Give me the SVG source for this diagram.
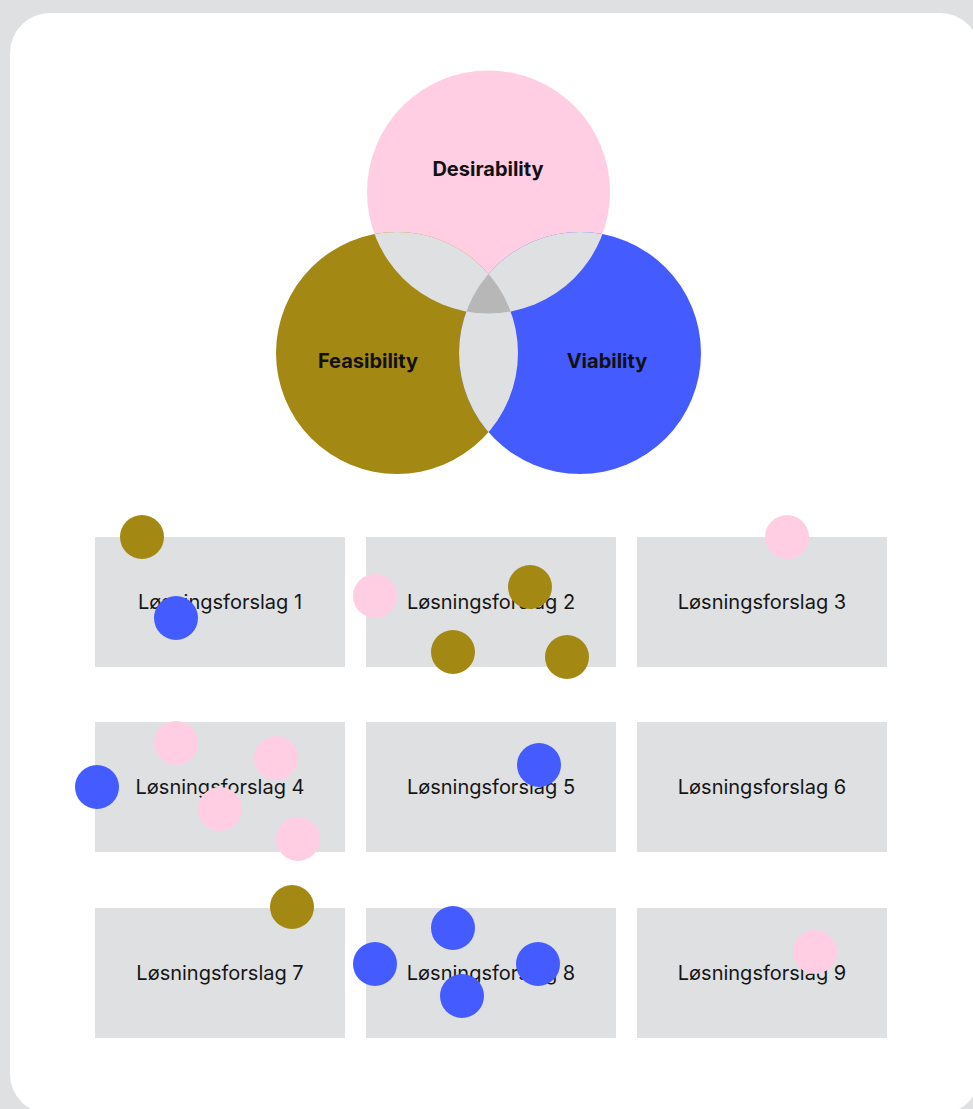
<svg xmlns="http://www.w3.org/2000/svg" width="973" height="1109" viewBox="0 0 973 1109">
  <style>
    .card { fill: #ffffff; }
    .box { fill: #dfe0e2; }
    .box-label { font-family: Inter, "Liberation Sans", sans-serif; font-size: 20px; fill: #161616; text-anchor: middle; dominant-baseline: central; }
    .venn-label { font-family: Inter, "Liberation Sans", sans-serif; font-size: 20px; font-weight: 700; fill: #111111; text-anchor: middle; dominant-baseline: central; }
    .pink { fill: #ffcee3; }
    .olive { fill: #a38814; }
    .blue { fill: #445bff; }
    .pair { fill: #dfe0e2; }
    .triple { fill: #b7b7b7; }
  </style>
  <defs>
    <clipPath id="clipD"><circle cx="488.5" cy="192" r="121.5"/></clipPath>
    <clipPath id="clipF"><circle cx="397" cy="353" r="121"/></clipPath>
    <clipPath id="clipV"><circle cx="580" cy="353" r="121"/></clipPath>
  </defs>

  <!-- page background and card -->
  <rect x="0" y="0" width="973" height="1109" fill="#dfe0e2"/>
  <rect class="card" x="10" y="13" width="970" height="1101" rx="40" ry="40"/>

  <!-- Venn diagram -->
  <g id="venn">
    <g id="desirability">
      <circle class="pink" cx="488.5" cy="192" r="121.5"/>
    </g>
    <g id="feasibility">
      <circle class="olive" cx="397" cy="353" r="121"/>
    </g>
    <g id="viability">
      <circle class="blue" cx="580" cy="353" r="121"/>
    </g>
    <g id="overlaps">
      <circle class="pair" cx="397" cy="353" r="121" clip-path="url(#clipD)"/>
      <circle class="pair" cx="580" cy="353" r="121" clip-path="url(#clipD)"/>
      <circle class="pair" cx="397" cy="353" r="121" clip-path="url(#clipV)"/>
      <g clip-path="url(#clipV)">
        <circle class="triple" cx="397" cy="353" r="121" clip-path="url(#clipD)"/>
      </g>
    </g>
    <text class="venn-label" x="488" y="169">Desirability</text>
    <text class="venn-label" x="368" y="361">Feasibility</text>
    <text class="venn-label" x="607" y="361">Viability</text>
  </g>

  <!-- solution boxes -->
  <g id="box1"><rect class="box" x="95" y="537" width="250" height="130"/><text class="box-label" x="220" y="602">Løsningsforslag 1</text></g>
  <g id="box2"><rect class="box" x="366" y="537" width="250" height="130"/><text class="box-label" x="491" y="602">Løsningsforslag 2</text></g>
  <g id="box3"><rect class="box" x="637" y="537" width="250" height="130"/><text class="box-label" x="762" y="602">Løsningsforslag 3</text></g>
  <g id="box4"><rect class="box" x="95" y="722" width="250" height="130"/><text class="box-label" x="220" y="787">Løsningsforslag 4</text></g>
  <g id="box5"><rect class="box" x="366" y="722" width="250" height="130"/><text class="box-label" x="491" y="787">Løsningsforslag 5</text></g>
  <g id="box6"><rect class="box" x="637" y="722" width="250" height="130"/><text class="box-label" x="762" y="787">Løsningsforslag 6</text></g>
  <g id="box7"><rect class="box" x="95" y="908" width="250" height="130"/><text class="box-label" x="220" y="973">Løsningsforslag 7</text></g>
  <g id="box8"><rect class="box" x="366" y="908" width="250" height="130"/><text class="box-label" x="491" y="973">Løsningsforslag 8</text></g>
  <g id="box9"><rect class="box" x="637" y="908" width="250" height="130"/><text class="box-label" x="762" y="973">Løsningsforslag 9</text></g>

  <!-- voting dots -->
  <g id="dots">
    <circle class="olive" cx="142" cy="537" r="22"/>
    <circle class="blue" cx="176" cy="618" r="22"/>
    <circle class="pink" cx="375" cy="596" r="22"/>
    <circle class="olive" cx="530" cy="587" r="22"/>
    <circle class="olive" cx="453" cy="652" r="22"/>
    <circle class="olive" cx="567" cy="657" r="22"/>
    <circle class="pink" cx="787" cy="537" r="22"/>
    <circle class="pink" cx="176" cy="743" r="22"/>
    <circle class="pink" cx="276" cy="758" r="22"/>
    <circle class="blue" cx="97" cy="787" r="22"/>
    <circle class="pink" cx="220" cy="809" r="22"/>
    <circle class="pink" cx="298" cy="839" r="22"/>
    <circle class="blue" cx="539" cy="765" r="22"/>
    <circle class="olive" cx="292" cy="907" r="22"/>
    <circle class="blue" cx="453" cy="928" r="22"/>
    <circle class="blue" cx="375" cy="964" r="22"/>
    <circle class="blue" cx="538" cy="964" r="22"/>
    <circle class="blue" cx="462" cy="996" r="22"/>
    <circle class="pink" cx="815" cy="952" r="22"/>
  </g>
</svg>
